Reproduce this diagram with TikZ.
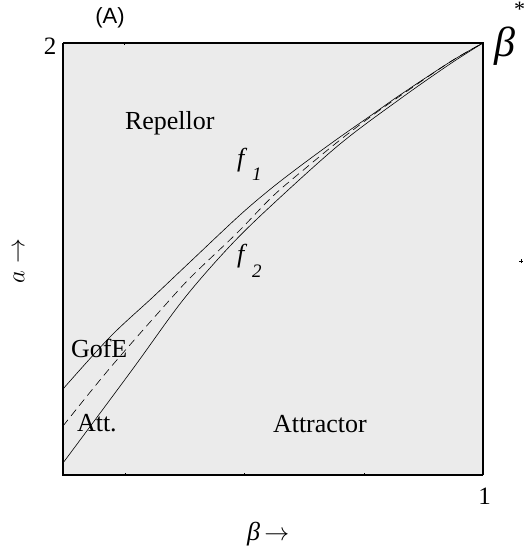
\documentclass[tikz,border=0pt]{standalone}
\usepackage{fontspec}
\setmainfont{Liberation Serif}
\newfontfamily\arialf{Liberation Sans}
\definecolor{panelgray}{HTML}{EBEBEB}
\begin{document}
\begin{tikzpicture}[x=1pt,y=-1pt,
  lbl/.style={inner sep=0pt,outer sep=0pt,font=\fontsize{26}{30}\selectfont},
  num/.style={inner sep=0pt,outer sep=0pt,font=\fontsize{25}{28}\selectfont},
  curve/.style={line width=0.6pt},
  dashcurve/.style={line width=0.6pt,dash pattern=on 8pt off 5pt}]
\useasboundingbox (0,0) rectangle (524,548);
% panel
\fill[panelgray] (63,43) rectangle (483,475);
\draw[line width=1.2pt] (63,43) -- (483,43) -- (483,475);
\draw[line width=1.8pt] (483,475) -- (63,475) -- (63,43);
% ticks
\foreach \tx in {125,244,364} \draw[line width=0.5pt] (\tx,475) -- (\tx,473);
\draw[line width=0.5pt] (124,43) -- (124,45);
% curves
\draw[curve] plot[smooth,tension=0.55] coordinates {(63,389) (110,337) (153,297) (190,262) (240,215) (273,187) (307,161) (340,137) (373,114) (400,95) (450,62) (483,43)};
\draw[curve] plot[smooth,tension=0.55] coordinates {(63,463) (132,370) (183,300) (230,246) (273,204) (340,144) (400,99) (450,64) (483,43)};
\draw[dashcurve] plot[smooth,tension=0.55] coordinates {(63,426) (110,368) (167,303) (193,275) (237,233) (273,196) (307,167) (340,140) (373,115) (400,96) (450,62) (483,43)};
% labels
\node[inner sep=0pt,font=\arialf\fontsize{22}{26}\selectfont] (lA) at (110,18) {(A)};
\node[num] (ltwo) at (50,46.5) {2};
\node[num] (lone) at (484.5,496.5) {1};
\node[lbl,anchor=base west] (rep) at (125,130) {Repellor};
\node[lbl,anchor=base west] (gofe) at (71,357) {GofE};
\node[lbl,anchor=base west] (att) at (77,431) {Att.};
\node[lbl,anchor=base west] (attr) at (273,432) {Attractor};
\node[lbl,anchor=base west] (fone) at (237,167) {\itshape f};
\node[inner sep=0pt,anchor=base west,font=\fontsize{19}{22}\selectfont\itshape] (fonesub) at (252,180) {1};
\node[lbl,anchor=base west] (ftwo) at (237,262) {\itshape f};
\node[inner sep=0pt,anchor=base west,font=\fontsize{19}{22}\selectfont\itshape] (ftwosub) at (252,277) {2};
\node[inner sep=0pt,anchor=base west,font=\fontsize{42}{46}\selectfont\itshape] (bstar) at (494,57) {β};
\node[inner sep=0pt,anchor=north west,font=\fontsize{22}{24}\selectfont] (star) at (514,2) {*};
\node[lbl,anchor=base west] (xlab) at (247,540) {{\itshape β}\,$\rightarrow$};
\node[lbl,rotate=90] (ylab) at (19,261) {$a\rightarrow$};
% small stray mark
\coordinate (m) at (521,261);
\draw[line width=0.7pt] ([xshift=-2pt]m) -- ([xshift=2pt]m) ([yshift=-2pt]m) -- ([yshift=2pt]m);
\end{tikzpicture}
\end{document}
